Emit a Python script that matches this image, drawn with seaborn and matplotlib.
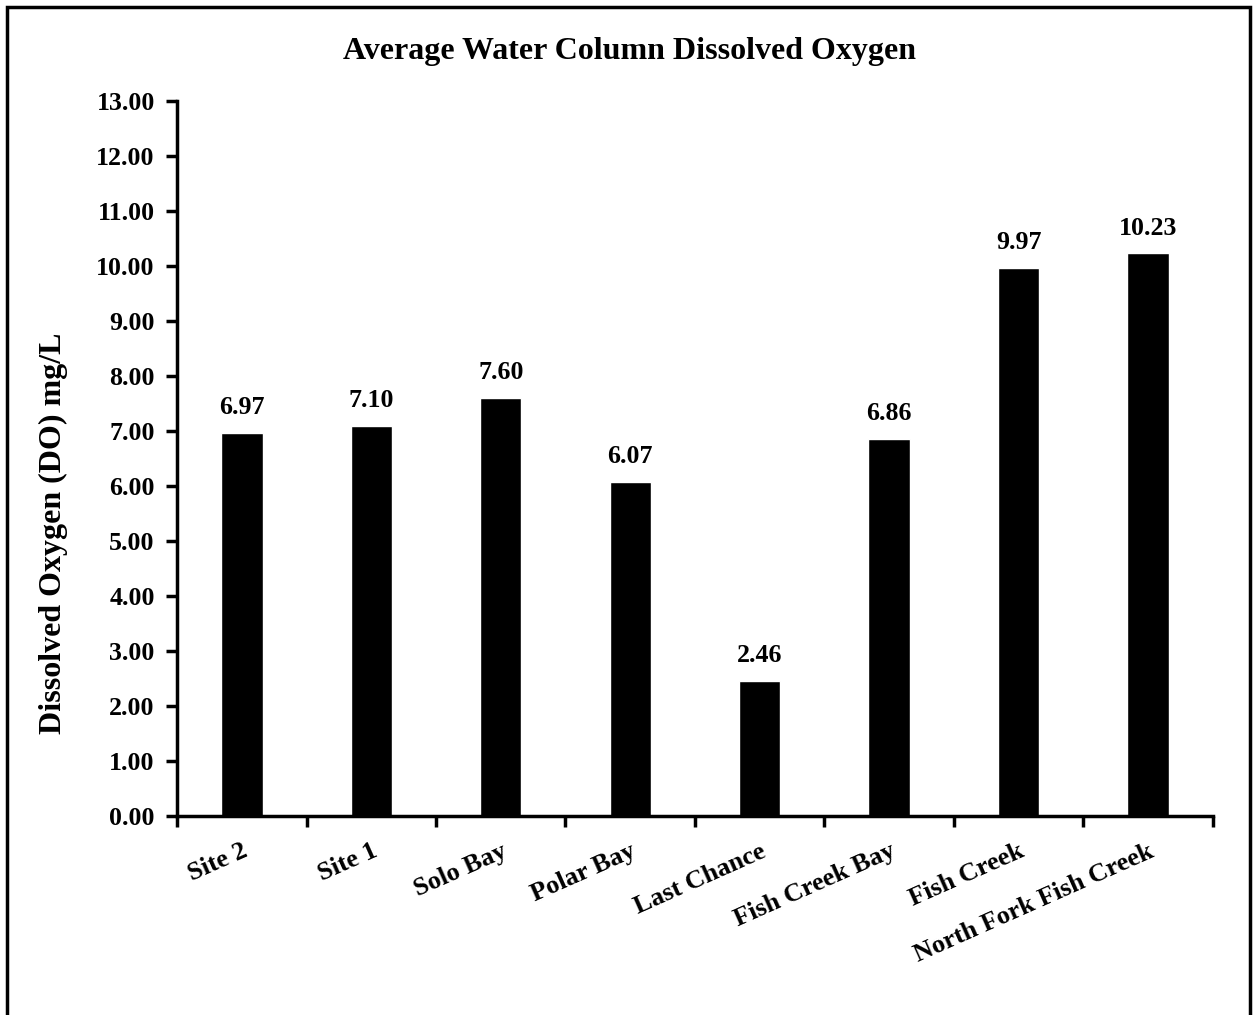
import matplotlib
matplotlib.use("Agg")
import matplotlib.pyplot as plt
import seaborn as sns
import pandas as pd
import numpy as np
from matplotlib.patches import Rectangle

sites = ["Site 2", "Site 1", "Solo Bay", "Polar Bay", "Last Chance",
         "Fish Creek Bay", "Fish Creek", "North Fork Fish Creek"]
do_values = [6.97, 7.10, 7.60, 6.07, 2.46, 6.86, 9.97, 10.23]
y_ticks = [0, 1, 2, 3, 4, 5, 6, 7, 8, 9, 10, 11, 12, 13]

sns.set_theme(style="white")
plt.rcParams['font.family'] = ['Liberation Serif', 'DejaVu Serif']
plt.rcParams['font.weight'] = 'bold'
plt.rcParams['text.color'] = 'black'
plt.rcParams['axes.labelcolor'] = 'black'
plt.rcParams['xtick.color'] = 'black'
plt.rcParams['ytick.color'] = 'black'

df = pd.DataFrame({"site": sites, "do": do_values})

fig = plt.figure(figsize=(12.53, 10.15), dpi=100)
ax = fig.add_axes([0.1413, 0.196, 0.8267, 0.7045])

sns.barplot(data=df, x="site", y="do", color="black", width=0.32,
            saturation=1, ax=ax, order=sites)

for i, v in enumerate(do_values):
    ax.text(i, v + 0.25, f"{v:.2f}", ha="center", va="bottom",
            fontsize=18.6, fontweight="bold", color="black")

ax.set_ylim(0, 13)
ax.set_xlim(-0.5, len(sites) - 0.5)
ax.set_yticks(y_ticks)
ax.set_yticklabels([f"{t:.2f}" for t in y_ticks], fontsize=18.6, fontweight="bold")

# x ticks at category boundaries, labels at centers
ax.set_xticks(np.arange(-0.5, len(sites), 1.0))
ax.set_xticklabels([])
ax.set_xticks(np.arange(len(sites)), minor=True)
ax.set_xticklabels(sites, minor=True, rotation=24, ha="right",
                   rotation_mode="anchor", fontsize=19, fontweight="bold")
ax.tick_params(axis="x", which="minor", length=0, pad=17)
ax.tick_params(axis="x", which="major", direction="out", length=8, width=2.5,
               color="black", bottom=True)
ax.tick_params(axis="y", direction="out", length=8, width=2.5, color="black",
               left=True, pad=8)

for s in ["top", "right"]:
    ax.spines[s].set_visible(False)
for s in ["left", "bottom"]:
    ax.spines[s].set_color("black")
    ax.spines[s].set_linewidth(2.5)

ax.set_xlabel("")
ax.set_ylabel("Dissolved Oxygen (DO) mg/L", fontsize=23, fontweight="bold")
ax.yaxis.set_label_coords(-0.105, 0.396)
fig.suptitle("Average Water Column Dissolved Oxygen", fontsize=23,
             fontweight="bold", x=0.5024, y=1 - 52 / 1015, va="center")

fig.patches.append(Rectangle((7 / 1253, -0.01), (1250 - 7) / 1253, 1 - 7 / 1015 + 0.01,
                             transform=fig.transFigure, fill=False,
                             edgecolor="black", linewidth=2.5))

fig.savefig("out.png", dpi=100)
